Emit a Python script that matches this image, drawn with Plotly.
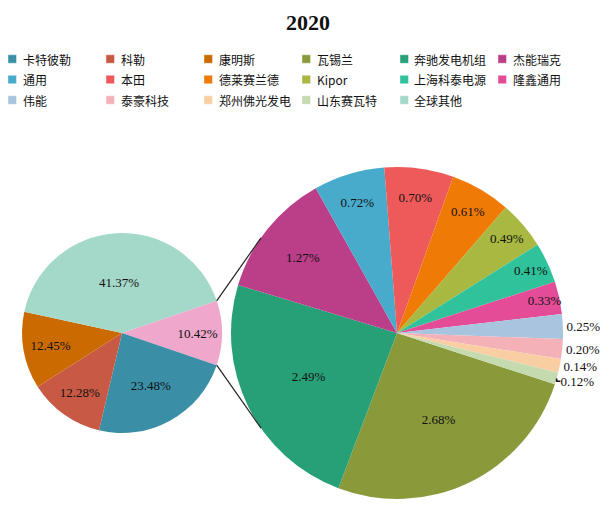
import math
import plotly.graph_objects as go

# 2020 share of generator-set makers (%)
main_labels = ["其他", "卡特彼勒", "科勒", "康明斯", "全球其他"]
main_values = [10.42, 23.48, 12.28, 12.45, 41.37]
main_colors = ["#EFA8CC", "#3A8FA6", "#C85A45", "#CC6A02", "#A4D8C8"]

detail_labels = ["瓦锡兰", "奔驰发电机组", "杰能瑞克", "通用", "本田", "德莱赛兰德", "Kipor",
                 "上海科泰电源", "隆鑫通用", "伟能", "泰豪科技", "郑州佛光发电", "山东赛瓦特"]
detail_values = [2.68, 2.49, 1.27, 0.72, 0.70, 0.61, 0.49, 0.41, 0.33, 0.25, 0.20, 0.14, 0.12]
detail_colors = ["#8A993A", "#27A078", "#BA3E88", "#48ABCB", "#EE5A5A", "#F07A06", "#A8B840",
                 "#30C29A", "#E44C98", "#A8C4DE", "#F4B2B8", "#F8CEA2", "#C6DAB0"]

legend_order = ["卡特彼勒", "科勒", "康明斯"] + detail_labels + ["全球其他"]

W, H = 616, 512
off = 8  # page body margin
# pie geometry in pixels (figure coordinates)
lcx, lcy, lr = 122 - off, 333 - off, 100
rcx, rcy, rr = 397 - off, 333 - off, 166

color_of = dict(zip(main_labels, main_colors))
color_of.update(zip(detail_labels, detail_colors))

serif = "Liberation Serif, Times New Roman, serif"

fig = go.Figure()

other_share = main_values[0] / sum(main_values)
fig.add_trace(go.Pie(
    labels=main_labels, values=main_values, sort=False, direction="clockwise",
    rotation=90 - other_share * 360 / 2,
    marker=dict(colors=main_colors, line=dict(width=0)),
    texttemplate="%{value:.2f}%", textposition="inside", insidetextorientation="horizontal",
    textfont=dict(family=serif, size=13, color="#111"),
    domain=dict(x=[(lcx - lr) / W, (lcx + lr) / W], y=[(H - lcy - lr) / H, (H - lcy + lr) / H]),
    showlegend=False, hoverinfo="label+value",
))

positions = ["inside"] * 9 + ["outside"] * 4
fig.add_trace(go.Pie(
    labels=detail_labels, values=detail_values, sort=False, direction="clockwise",
    rotation=108,
    marker=dict(colors=detail_colors, line=dict(width=0)),
    texttemplate="%{value:.2f}%", textposition=positions, insidetextorientation="horizontal",
    textfont=dict(family=serif, size=13, color="#111"),
    domain=dict(x=[(rcx - rr) / W, (rcx + rr) / W], y=[(H - rcy - rr) / H, (H - rcy + rr) / H]),
    showlegend=False, hoverinfo="label+value",
))

# legend: six entries per row, square swatch + label
col_w, row_h, sq = 98, 20.5, 8.5
lx0, ly0 = 0, 59 - off
for i, name in enumerate(legend_order):
    x = lx0 + (i % 6) * col_w
    y = ly0 + (i // 6) * row_h
    fig.add_shape(type="rect", xref="paper", yref="paper",
                  x0=x / W, x1=(x + sq) / W, y0=1 - (y - sq / 2) / H, y1=1 - (y + sq / 2) / H,
                  fillcolor=color_of[name], line=dict(width=0.6, color="rgba(255,255,255,0.7)"))
    fig.add_annotation(x=(x + sq + 4) / W, y=1 - y / H, xref="paper", yref="paper",
                       text=name, showarrow=False, xanchor="left", yanchor="middle",
                       font=dict(family="Noto Sans CJK SC", size=12, color="#111"))

# connector lines from the "其他" slice to the detail pie
half = other_share * math.pi
for sgn in (1, -1):
    x0 = lcx + lr * math.cos(half)
    y0 = lcy - sgn * lr * math.sin(half)
    ang = math.radians(145)
    x1 = rcx + rr * math.cos(ang)
    y1 = rcy - sgn * rr * math.sin(ang)
    fig.add_shape(type="line", xref="paper", yref="paper",
                  x0=x0 / W, y0=1 - y0 / H, x1=x1 / W, y1=1 - y1 / H,
                  line=dict(color="#222", width=1.2))

fig.update_layout(
    width=W, height=H,
    margin=dict(l=0, r=0, t=0, b=0),
    paper_bgcolor="white", plot_bgcolor="white",
    title=dict(text="<b>2020</b>", x=(308 - off) / W, xanchor="center", y=1 - (22 - off) / H,
               yanchor="middle", font=dict(family=serif, size=22, color="#111")),
    xaxis=dict(visible=False), yaxis=dict(visible=False),
    uniformtext=dict(minsize=13, mode="show"),
    showlegend=False,
)

fig.write_html("out.html")
